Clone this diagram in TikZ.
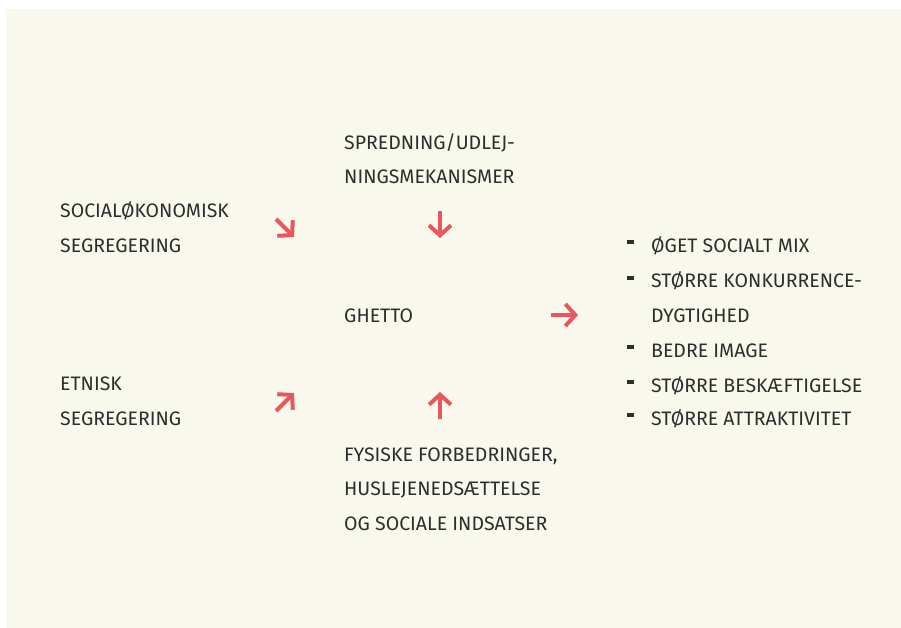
\documentclass[tikz,border=0pt]{standalone}
\usepackage{fontspec}
\setmainfont{Fira Sans}
\usepackage{xcolor}
\usetikzlibrary{arrows.meta}

\definecolor{creambg}{HTML}{F8F8EC}
\definecolor{arrowred}{HTML}{E8575D}
\definecolor{textgray}{HTML}{2E2E2E}

\begin{document}
\begin{tikzpicture}[x=1pt,y=-1pt]
        % Define styles
        \tikzset{
            label/.style={anchor=base west, inner sep=0pt, align=left, text=textgray,
                font=\fontsize{19.5}{34.5}\selectfont},
            bullet/.style={fill=textgray, minimum width=7pt, minimum height=3.2pt, inner sep=0pt},
            arrow/.style={draw=arrowred, line width=4pt,
                -{Straight Barb[length=10pt, width=22pt, line width=4pt]}}
        }

        % Background
        \useasboundingbox (0,0) rectangle (901,628);
        \fill[creambg] (6,9) rectangle (901,628);

        % Nodes (base = baseline of last line)
        \node[label] (socio) at (60,252) {SOCIALØKONOMISK\\SEGREGERING};
        \node[label] (etnisk) at (60,425) {ETNISK\\SEGREGERING};
        \node[label] (spredning) at (344,184) {SPREDNING/UDLEJ-\\NINGSMEKANISMER};
        \node[label] (ghetto) at (344,322) {GHETTO};
        \node[label] (fysiske) at (344,530) {FYSISKE FORBEDRINGER,\\HUSLEJENEDSÆTTELSE\\OG SOCIALE INDSATSER};

        % Result list
        \node[label] (mix) at (651,252) {ØGET SOCIALT MIX};
        \node[label] (konkurrence) at (651,322) {STØRRE KONKURRENCE-\\DYGTIGHED};
        \node[label] (image) at (651,357) {BEDRE IMAGE};
        \node[label] (beskaeft) at (651,392) {STØRRE BESKÆFTIGELSE};
        \node[label] (attrak) at (651,425) {STØRRE ATTRAKTIVITET};
        \node[bullet] (b_mix) at (630.5,242) {};
        \node[bullet] (b_konk) at (630.5,278) {};
        \node[bullet] (b_image) at (630.5,347) {};
        \node[bullet] (b_besk) at (630.5,382) {};
        \node[bullet] (b_attr) at (630.5,415) {};

        % Arrow ends
        \coordinate (socio_from) at (276,219);
        \coordinate (socio_to) at (294,237);
        \coordinate (spred_from) at (440,211);
        \coordinate (spred_to) at (440,238);
        \coordinate (ghetto_from) at (551,315);
        \coordinate (ghetto_to) at (578,315);
        \coordinate (etnisk_from) at (276,411);
        \coordinate (etnisk_to) at (294,393);
        \coordinate (fys_from) at (440,419);
        \coordinate (fys_to) at (440,392);

        % Arrows
        \draw[arrow] (socio_from) -- (socio_to);
        \draw[arrow] (spred_from) -- (spred_to);
        \draw[arrow] (ghetto_from) -- (ghetto_to);
        \draw[arrow] (etnisk_from) -- (etnisk_to);
        \draw[arrow] (fys_from) -- (fys_to);
\end{tikzpicture}
\end{document}
